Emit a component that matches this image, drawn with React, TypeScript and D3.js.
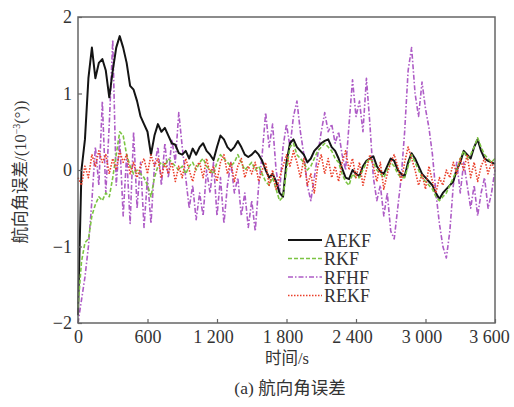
import React, { useEffect, useRef } from "react";
import * as d3 from "d3";

// time step between samples is 30 s (0 .. 3600 s)
const STEP = 30;

const xTicks = [0, 600, 1200, 1800, 2400, 3000, 3600];
const yTicks = [-2, -1, 0, 1, 2];

const seriesNames = ["AEKF", "RKF", "RFHF", "REKF"];

const aekf = [
	-1.9, 0.0, 0.4, 1.2, 1.6, 1.2, 1.4, 1.45, 1.3, 0.95,
	1.3, 1.6, 1.75, 1.6, 1.4, 1.1, 1.05, 0.9, 0.7, 0.6,
	0.5, 0.2, 0.45, 0.6, 0.5, 0.55, 0.45, 0.35, 0.33, 0.22,
	0.2, 0.25, 0.15, 0.28, 0.2, 0.3, 0.35, 0.25, 0.2, 0.13,
	0.3, 0.45, 0.4, 0.3, 0.25, 0.3, 0.38, 0.3, 0.2, 0.17,
	0.2, 0.25, 0.2, 0.12, 0.0, -0.1, -0.05, -0.15, -0.3, -0.35,
	0.1, 0.35, 0.4, 0.3, 0.25, 0.2, 0.1, 0.15, 0.25, 0.3,
	0.35, 0.38, 0.4, 0.3, 0.25, 0.15, 0.02, -0.1, -0.12, 0.0,
	-0.05, -0.08, 0.05, 0.12, 0.15, 0.18, 0.05, -0.02, -0.05, 0.05,
	0.15, 0.12, 0.0, -0.05, -0.08, 0.1, 0.22, 0.15, 0.05, -0.05,
	-0.1, -0.15, -0.2, -0.3, -0.38, -0.3, -0.25, -0.2, -0.15, 0.0,
	0.1, 0.25, 0.2, 0.15, 0.3, 0.4, 0.25, 0.15, 0.12, 0.1,
	0.08,
];

const rkf = [
	-1.8, -1.2, -0.95, -0.9, -0.6, -0.45, -0.35, -0.4, -0.3, -0.35,
	-0.1, 0.2, 0.5, 0.45, 0.2, 0.05, -0.05, 0.0, -0.05, -0.1,
	-0.2, -0.35, -0.1, 0.05, 0.1, 0.05, 0.15, 0.1, 0.05, 0.0,
	0.05, -0.05, 0.05, 0.1, 0.0, 0.1, 0.15, 0.05, 0.0, -0.05,
	0.1, 0.2, 0.15, 0.1, 0.05, 0.1, 0.2, 0.1, 0.0, 0.05,
	0.1, 0.0, 0.05, -0.05, -0.15, -0.2, -0.1, -0.25, -0.4, -0.35,
	0.0, 0.3, 0.35, 0.2, 0.15, 0.1, 0.0, 0.05, 0.15, 0.25,
	0.3, 0.35, 0.3, 0.25, 0.15, 0.1, -0.05, -0.15, -0.2, -0.05,
	-0.1, -0.1, 0.0, 0.1, 0.15, 0.1, 0.0, -0.05, -0.1, 0.0,
	0.1, 0.05, -0.05, -0.1, -0.1, 0.05, 0.2, 0.1, 0.0, -0.1,
	-0.15, -0.2, -0.25, -0.35, -0.4, -0.35, -0.3, -0.2, -0.1, 0.0,
	0.15, 0.25, 0.15, 0.2, 0.3, 0.42, 0.3, 0.2, 0.15, 0.1,
	0.15,
];

const rfhf = [
	-2.0, -1.7, -1.4, -1.0, -0.4, 0.3, -0.2, 0.9, -0.3, 0.6,
	1.7, -0.2, 0.4, -0.6, 0.2, -0.7, 0.5, -0.5, 0.1, -0.75,
	-0.1, -0.7, 0.05, 0.3, -0.2, 0.35, -0.1, 0.4, 0.1, 0.75,
	0.3, -0.1, -0.5, -0.2, -0.65, -0.3, -0.6, 0.0, -0.3, 0.1,
	-0.6, -0.1, -0.7, -0.2, 0.1, -0.3, -0.1, -0.6, -0.3, -0.75,
	-0.4, -0.8, -0.2, 0.2, 0.75, 0.3, 0.6, 0.0, -0.3, 0.3,
	0.6, 0.3, 0.7, 0.9, 0.5, 0.2, -0.2, -0.4, -0.1, 0.2,
	0.5, 0.75, 0.5, 0.6, 0.35, 0.5, 0.2, 0.0, 0.6, 1.18,
	0.7, 0.9, 0.5, 1.2, 0.6, -0.1, -0.4, -0.2, -0.6, -0.3,
	-0.8, -0.9, -0.5, -0.1, 0.5, 1.3, 1.6, 1.0, 0.7, 1.15,
	0.8, 0.55, 0.2, -0.3, -0.7, -1.0, -1.15, -0.8, -0.2, 0.1,
	-0.3, 0.1, -0.2, -0.5, -0.2, -0.6, -0.3, -0.1, -0.5, -0.3,
	0.0,
];

const rekf = [
	-0.1, -0.2, 0.05, -0.1, 0.2, 0.05, 0.25, 0.1, 0.2, -0.05,
	0.15, 0.0, 0.25, 0.1, 0.2, -0.05, 0.1, -0.1, 0.05, 0.15,
	-0.05, 0.2, 0.05, 0.15, -0.1, 0.1, -0.05, 0.1, -0.15, 0.05,
	-0.1, 0.15, 0.0, -0.15, 0.05, 0.1, -0.1, 0.15, -0.05, 0.05,
	-0.15, 0.1, 0.2, -0.05, 0.1, -0.15, 0.05, 0.15, -0.1, 0.05,
	-0.05, 0.1, -0.15, 0.0, 0.1, -0.2, 0.0, -0.25, -0.1, 0.05,
	0.2, 0.05, 0.25, 0.1, -0.1, 0.15, -0.2, -0.05, -0.3, 0.05,
	0.2, -0.05, 0.15, -0.1, 0.05, -0.15, 0.1, 0.25, 0.0, 0.15,
	-0.1, 0.1, -0.2, 0.0, 0.2, 0.05, -0.15, 0.1, -0.25, -0.05,
	0.1, 0.2, 0.05, -0.15, 0.1, 0.3, 0.15, 0.0, -0.2, -0.05,
	-0.25, 0.05, -0.15, -0.3, -0.1, -0.2, 0.0, -0.1, 0.1, -0.05,
	0.15, 0.0, 0.2, -0.1, 0.1, -0.15, 0.05, 0.15, -0.05, 0.1,
	0.0,
];

const FONT = "'Liberation Serif', 'Times New Roman', 'Noto Sans CJK SC', serif";
const TEXT = "#333";

function Chart() {
	const ref = useRef<SVGSVGElement | null>(null);

	useEffect(() => {
		const left = 78;
		const right = 495;
		const top = 17;
		const bottom = 323;

		const svg = d3.select(ref.current);
		svg.selectAll("*").remove();

		const xScale = d3.scaleLinear().domain([0, 3600]).range([left, right]);
		const yScale = d3.scaleLinear().domain([-2, 2]).range([bottom, top]);

		// series styles: solid, dashed, dash-dot, dotted
		const styles = [
			{ name: seriesNames[0], data: aekf, color: "#141414", width: 2, dash: "" },
			{ name: seriesNames[1], data: rkf, color: "#7cc443", width: 1.6, dash: "4,2" },
			{ name: seriesNames[2], data: rfhf, color: "#ae5cc6", width: 1.6, dash: "5,2,1.5,2" },
			{ name: seriesNames[3], data: rekf, color: "#ea3f2a", width: 1.6, dash: "1.5,1.5" },
		];

		const line = d3
			.line<number>()
			.x((d, i) => xScale(i * STEP))
			.y(d => yScale(d));

		const plot = svg.append("g");
		// draw order: purple underneath, red on top
		[2, 0, 1, 3].forEach(idx => {
			const s = styles[idx];
			plot
				.append("path")
				.datum(s.data)
				.attr("fill", "none")
				.attr("stroke", s.color)
				.attr("stroke-width", s.width)
				.attr("stroke-dasharray", s.dash || null)
				.attr("stroke-linejoin", "round")
				.attr("d", line);
		});

		// frame
		svg
			.append("rect")
			.attr("x", left)
			.attr("y", top)
			.attr("width", right - left)
			.attr("height", bottom - top)
			.attr("fill", "none")
			.attr("stroke", "#666")
			.attr("stroke-width", 1.5);

		// x-axis, ticks pointing inside
		const fmt = (v: number) => d3.format(",")(v).replace(",", " ");
		const xAxis = d3
			.axisBottom(xScale)
			.tickValues(xTicks)
			.tickSizeInner(-4)
			.tickSizeOuter(0)
			.tickPadding(7)
			.tickFormat(d => fmt(d as number));

		const gx = svg
			.append("g")
			.attr("transform", `translate(0, ${bottom})`)
			.call(xAxis);
		gx.select(".domain").remove();
		gx.selectAll("line").attr("stroke", "#666").attr("stroke-width", 1.2);
		gx.selectAll<SVGTextElement, number>("text")
			.attr("fill", TEXT)
			.attr("dx", d => (d >= 3600 ? -6 : d >= 1000 ? -4 : 0))
			.style("font-family", FONT)
			.style("font-size", "18px");

		// y-axis
		const yAxis = d3
			.axisLeft(yScale)
			.tickValues(yTicks)
			.tickSizeInner(-4)
			.tickSizeOuter(0)
			.tickPadding(6)
			.tickFormat(d => ((d as number) < 0 ? "\u2212" + Math.abs(d as number) : String(d)));

		const gy = svg
			.append("g")
			.attr("transform", `translate(${left}, 0)`)
			.call(yAxis);
		gy.select(".domain").remove();
		gy.selectAll("line").attr("stroke", "#666").attr("stroke-width", 1.2);
		gy.selectAll("text")
			.attr("fill", TEXT)
			.style("font-family", FONT)
			.style("font-size", "18px");

		// y-axis label
		const yLabel = svg
			.append("text")
			.attr("transform", "rotate(-90)")
			.attr("x", -172)
			.attr("y", 26)
			.attr("text-anchor", "middle")
			.attr("fill", TEXT)
			.style("font-family", FONT)
			.style("font-size", "16.5px");
		yLabel.append("tspan").text("航向角误差/(10");
		yLabel.append("tspan").attr("dy", -6).style("font-size", "10px").text("\u22123");
		yLabel.append("tspan").attr("dy", 6).text("(°))");

		// x-axis label
		svg
			.append("text")
			.attr("x", 287)
			.attr("y", 364)
			.attr("text-anchor", "middle")
			.attr("fill", TEXT)
			.style("font-family", FONT)
			.style("font-size", "16.5px")
			.text("时间/s");

		// caption
		svg
			.append("text")
			.attr("x", 290)
			.attr("y", 394)
			.attr("text-anchor", "middle")
			.attr("fill", TEXT)
			.style("font-family", FONT)
			.style("font-size", "17.5px")
			.text("(a) 航向角误差");

		// legend
		const legend = svg.append("g");
		styles.forEach((s, i) => {
			const y = 240 + i * 18.5;
			legend
				.append("line")
				.attr("x1", 288)
				.attr("x2", 322)
				.attr("y1", y)
				.attr("y2", y)
				.attr("stroke", s.color)
				.attr("stroke-width", s.width)
				.attr("stroke-dasharray", s.dash || null);
			legend
				.append("text")
				.attr("x", 324)
				.attr("y", y + 6.5)
				.attr("fill", TEXT)
				.style("font-family", FONT)
				.style("font-size", "18px")
				.text(s.name);
		});
	}, []);

	return (
		<svg
			ref={ref}
			width={514}
			height={407}
			style={{ position: "absolute", left: 0, top: 0, background: "#fff" }}
		/>
	);
}

export default function App() {
	return <Chart />;
}
